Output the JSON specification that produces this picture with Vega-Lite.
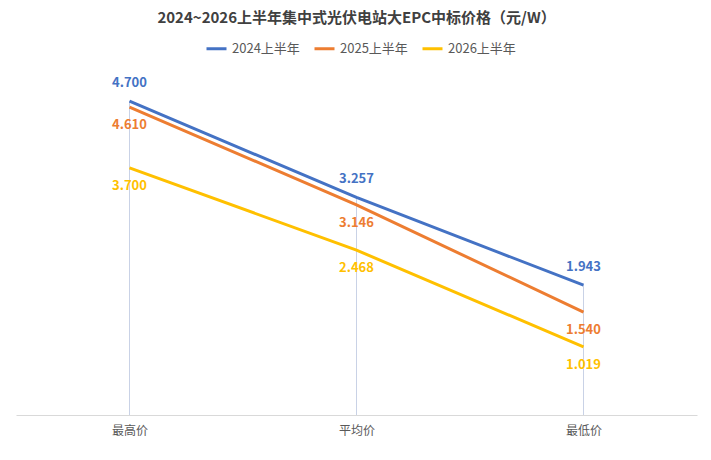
{
  "$schema": "https://vega.github.io/schema/vega-lite/v6.json",
  "width": 681,
  "height": 334,
  "autosize": "none",
  "padding": {"left": 16, "top": 81, "right": 14, "bottom": 45},
  "background": "white",
  "config": {"view": {"stroke": null}, "font": "Noto Sans CJK SC"},
  "title": {
    "text": "2024~2026上半年集中式光伏电站大EPC中标价格（元/W）",
    "font": "Noto Sans CJK SC",
    "fontSize": 15,
    "fontWeight": "bold",
    "color": "#404040",
    "anchor": "middle",
    "offset": 11
  },
  "data": {
    "values": [
      {"cat": "最高价", "idx": 1, "series": "2024上半年", "value": 4.700},
      {"cat": "平均价", "idx": 2, "series": "2024上半年", "value": 3.257},
      {"cat": "最低价", "idx": 3, "series": "2024上半年", "value": 1.943},
      {"cat": "最高价", "idx": 1, "series": "2025上半年", "value": 4.610},
      {"cat": "平均价", "idx": 2, "series": "2025上半年", "value": 3.146},
      {"cat": "最低价", "idx": 3, "series": "2025上半年", "value": 1.540},
      {"cat": "最高价", "idx": 1, "series": "2026上半年", "value": 3.700},
      {"cat": "平均价", "idx": 2, "series": "2026上半年", "value": 2.468},
      {"cat": "最低价", "idx": 3, "series": "2026上半年", "value": 1.019}
    ]
  },
  "encoding": {
    "x": {
      "field": "cat",
      "type": "nominal",
      "sort": ["最高价", "平均价", "最低价"],
      "scale": {"type": "point", "padding": 0.5},
      "axis": {
        "title": null,
        "labelAngle": 0,
        "ticks": false,
        "domainColor": "#d9d9d9",
        "labelColor": "#595959",
        "labelFontSize": 12,
        "labelPadding": 10,
        "labelFont": "Noto Sans CJK SC"
      }
    }
  },
  "layer": [
    {
      "transform": [{"aggregate": [{"op": "max", "field": "value", "as": "top"}], "groupby": ["cat"]}],
      "mark": {"type": "rule", "color": "#c9d2e6", "strokeWidth": 1},
      "encoding": {
        "y": {"field": "top", "type": "quantitative", "scale": {"domain": [0, 5]}, "axis": null},
        "y2": {"datum": 0}
      }
    },
    {
      "mark": {"type": "line", "strokeWidth": 3},
      "encoding": {
        "y": {"field": "value", "type": "quantitative", "scale": {"domain": [0, 5]}, "axis": null},
        "order": {"field": "idx"},
        "color": {
          "field": "series",
          "type": "nominal",
          "scale": {
            "domain": ["2024上半年", "2025上半年", "2026上半年"],
            "range": ["#4472C4", "#ED7D31", "#FFC000"]
          },
          "legend": {
            "orient": "none",
            "legendX": 189,
            "legendY": -44,
            "direction": "horizontal",
            "title": null,
            "symbolType": "stroke",
            "symbolSize": 400,
            "symbolStrokeWidth": 3,
            "labelFontSize": 13,
            "labelColor": "#595959",
            "labelFont": "Noto Sans CJK SC",
            "columnPadding": 8
          }
        }
      }
    },
    {
      "transform": [{"filter": "datum.series == '2024上半年'"}],
      "mark": {"type": "text", "dy": -18, "fontSize": 13, "fontWeight": "bold", "font": "Noto Sans CJK SC"},
      "encoding": {
        "y": {"field": "value", "type": "quantitative", "scale": {"domain": [0, 5]}, "axis": null},
        "text": {"field": "value", "type": "quantitative", "format": ".3f"},
        "color": {"field": "series", "type": "nominal"}
      }
    },
    {
      "transform": [{"filter": "datum.series != '2024上半年'"}],
      "mark": {"type": "text", "dy": 18, "fontSize": 13, "fontWeight": "bold", "font": "Noto Sans CJK SC"},
      "encoding": {
        "y": {"field": "value", "type": "quantitative", "scale": {"domain": [0, 5]}, "axis": null},
        "text": {"field": "value", "type": "quantitative", "format": ".3f"},
        "color": {"field": "series", "type": "nominal"}
      }
    }
  ]
}
